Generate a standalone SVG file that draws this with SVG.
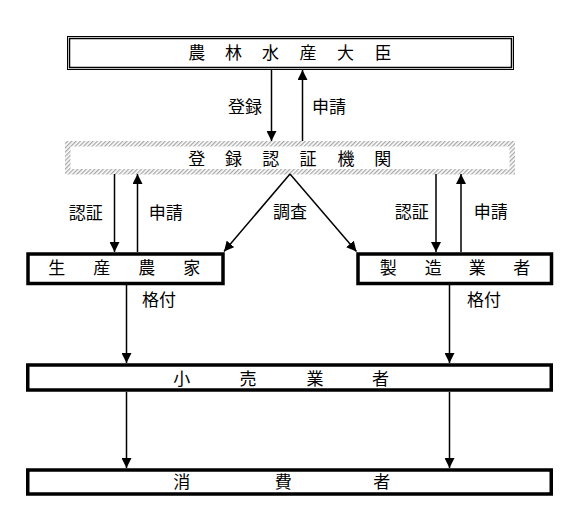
<svg xmlns="http://www.w3.org/2000/svg" width="581" height="526" viewBox="0 0 581 526">
<defs>
<marker id="ah" markerUnits="userSpaceOnUse" markerWidth="10" markerHeight="10" viewBox="0 0 10 10" refX="10" refY="5" orient="auto">
<path d="M0,0 L10,5 L0,10 Z" fill="#000"/>
</marker>
<pattern id="hatch" patternUnits="userSpaceOnUse" width="3" height="3" patternTransform="rotate(45)">
<rect width="3" height="3" fill="#fff"/>
<rect width="1.3" height="3" fill="#a8a8a8"/>
</pattern>
</defs>
<style>
text{font-family:"Noto Sans CJK JP","Noto Sans CJK SC",sans-serif;font-size:17px;fill:#000;text-anchor:middle}
.box{fill:#fff;stroke:#000;stroke-width:3.5}
.ln{stroke:#000;stroke-width:1.5;fill:none}
.ar{stroke:#000;stroke-width:1.5;fill:none;marker-end:url(#ah)}
</style>
<rect width="581" height="526" fill="#fff"/>
<g id="minister">
<rect x="67.5" y="36.5" width="446" height="33" fill="#fff" stroke="#000" stroke-width="1"/>
<rect x="69.5" y="38.5" width="442" height="29" fill="none" stroke="#000" stroke-width="1.5"/>
<text x="196.7 233.5 270.5 308 345.5 383" y="59">農林水産大臣</text>
</g>
<g id="registration">
<rect x="67.75" y="143.75" width="444.5" height="28" fill="#fff" stroke="url(#hatch)" stroke-width="5.5"/>
<text x="196.7 233.5 270.7 308 346 382.7" y="165">登録認証機関</text>
</g>
<g id="producer">
<rect class="box" x="28" y="254" width="195" height="29.5"/>
<text x="56.7 101.7 146.7 191.7" y="273.5">生産農家</text>
</g>
<g id="manufacturer">
<rect class="box" x="358" y="254" width="193.5" height="29.5"/>
<text x="388.3 433.3 477.3 521.7" y="273.5">製造業者</text>
</g>
<g id="retailer">
<rect class="box" x="27.75" y="365" width="523.5" height="25"/>
<text x="181.7 248 315 380.5" y="384.5">小売業者</text>
</g>
<g id="consumer">
<rect class="box" x="27.75" y="470" width="523.5" height="24"/>
<text x="181.7 283.3 381.7" y="488">消費者</text>
</g>
<g id="connectors">
<line class="ar" x1="271.5" y1="70" x2="271.5" y2="141"/>
<line class="ar" x1="302.5" y1="141" x2="302.5" y2="70"/>
<line class="ar" x1="114.5" y1="174" x2="114.5" y2="252"/>
<line class="ar" x1="137.5" y1="252" x2="137.5" y2="174"/>
<line class="ar" x1="436" y1="174" x2="436" y2="252"/>
<line class="ar" x1="461" y1="252" x2="461" y2="174"/>
<line class="ar" x1="290" y1="174" x2="224" y2="251.5"/>
<line class="ar" x1="290" y1="174" x2="356.5" y2="251.5"/>
<line class="ar" x1="126.5" y1="285" x2="126.5" y2="363"/>
<line class="ar" x1="449.5" y1="285" x2="449.5" y2="363"/>
<line class="ar" x1="126.5" y1="392" x2="126.5" y2="468"/>
<line class="ar" x1="449.5" y1="392" x2="449.5" y2="468"/>
</g>
<g id="labels">
<text x="245" y="112.5">登録</text>
<text x="329" y="112.5">申請</text>
<text x="85.7" y="218.5">認証</text>
<text x="165.7" y="218.5">申請</text>
<text x="290" y="218">調査</text>
<text x="411.7" y="218">認証</text>
<text x="490.7" y="218">申請</text>
<text x="159" y="306">格付</text>
<text x="484" y="306">格付</text>
</g>
</svg>
